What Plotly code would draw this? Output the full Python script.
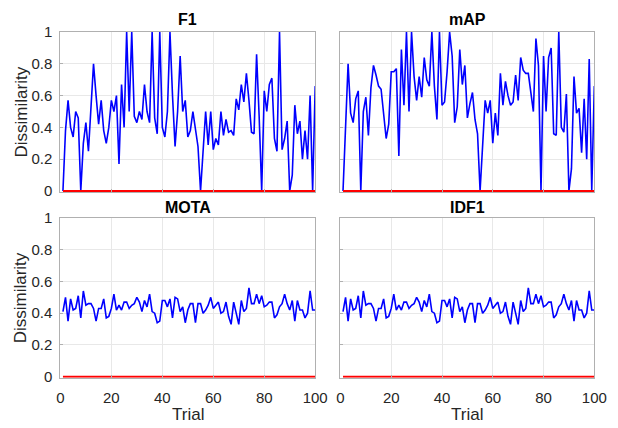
import plotly.graph_objects as go

trials = list(range(1, 101))

f1 = [0, 0.38, 0.57, 0.40, 0.34, 0.50, 0.46, 0, 0.30, 0.43,
      0.25, 0.50, 0.80, 0.60, 0.42, 0.57, 0.38, 0.30, 0.40, 0.57,
      0.50, 0.60, 0.17, 0.67, 0.40, 1.0, 0.50, 1.0, 0.47, 0.43,
      0.50, 0.45, 0.67, 0.50, 0.43, 1.0, 0.46, 0.36, 1.0, 0.40,
      0.34, 0.50, 1.0, 0.60, 0.28, 0.50, 0.85, 0.50, 0.57, 0.34,
      0.38, 0.50, 0.38, 0.28, 0, 0.25, 0.50, 0.29, 0.50, 0.26,
      0.33, 0.29, 0.50, 0.35, 0.45, 0.37, 0.38, 0.35, 0.58, 0.51,
      0.67, 0.56, 0.74, 0.57, 0.37, 0.36, 0.86, 0.47, 0, 0.63,
      0.50, 0.67, 0.71, 0.33, 0.25, 1.0, 0.26, 0.33, 0.44, 0,
      0.10, 0.54, 0.36, 0.44, 0.20, 0.38, 0.20, 0.60, 0, 0.66]

mAP = [0, 0.42, 0.80, 0.49, 0.43, 0.58, 0.63, 0, 0.50, 0.59,
       0.35, 0.65, 0.79, 0.73, 0.66, 0.64, 0.48, 0.33, 0.42, 0.75,
       0.75, 0.77, 0.22, 0.89, 0.54, 1.0, 0.50, 1.0, 0.72, 0.57,
       0.72, 0.59, 0.84, 0.70, 0.66, 1.0, 0.66, 0.45, 1.0, 0.54,
       0.56, 0.75, 1.0, 0.85, 0.43, 0.53, 0.89, 0.67, 0.79, 0.46,
       0.55, 0.62, 0.45, 0.36, 0, 0.30, 0.57, 0.49, 0.57, 0.30,
       0.49, 0.35, 0.74, 0.54, 0.69, 0.60, 0.54, 0.56, 0.73, 0.57,
       0.84, 0.76, 0.74, 0.74, 0.60, 0.50, 0.96, 0.79, 0, 0.85,
       0.50, 0.84, 0.90, 0.36, 0.35, 1.0, 0.40, 0.37, 0.61, 0,
       0.14, 0.72, 0.49, 0.52, 0.24, 0.58, 0.20, 0.83, 0, 0.66]

mota = [0.41, 0.50, 0.35, 0.49, 0.42, 0.43, 0.51, 0.37, 0.54, 0.45,
        0.46, 0.46, 0.43, 0.35, 0.43, 0.43, 0.49, 0.37, 0.38, 0.43,
        0.52, 0.42, 0.45, 0.42, 0.47, 0.47, 0.43, 0.45, 0.46, 0.50,
        0.47, 0.41, 0.48, 0.44, 0.52, 0.41, 0.40, 0.34, 0.35, 0.48,
        0.48, 0.44, 0.49, 0.37, 0.50, 0.49, 0.41, 0.44, 0.34, 0.42,
        0.46, 0.46, 0.34, 0.46, 0.46, 0.40, 0.42, 0.45, 0.50, 0.43,
        0.45, 0.47, 0.40, 0.41, 0.47, 0.38, 0.33, 0.47, 0.40, 0.33,
        0.48, 0.41, 0.43, 0.56, 0.46, 0.46, 0.52, 0.46, 0.51, 0.44,
        0.45, 0.47, 0.47, 0.37, 0.39, 0.44, 0.46, 0.52, 0.46, 0.42,
        0.48, 0.35, 0.48, 0.42, 0.42, 0.37, 0.40, 0.54, 0.42, 0.42]

idf1 = [0.41, 0.50, 0.35, 0.49, 0.42, 0.43, 0.51, 0.37, 0.54, 0.45,
        0.46, 0.46, 0.43, 0.35, 0.43, 0.43, 0.49, 0.37, 0.38, 0.43,
        0.52, 0.42, 0.45, 0.42, 0.47, 0.47, 0.43, 0.45, 0.46, 0.50,
        0.47, 0.41, 0.48, 0.44, 0.52, 0.41, 0.40, 0.34, 0.35, 0.48,
        0.48, 0.44, 0.49, 0.37, 0.50, 0.49, 0.41, 0.44, 0.34, 0.42,
        0.46, 0.46, 0.34, 0.46, 0.46, 0.40, 0.42, 0.45, 0.50, 0.43,
        0.45, 0.47, 0.40, 0.41, 0.47, 0.38, 0.33, 0.47, 0.40, 0.33,
        0.48, 0.41, 0.43, 0.56, 0.46, 0.46, 0.52, 0.46, 0.51, 0.44,
        0.45, 0.47, 0.47, 0.37, 0.39, 0.44, 0.46, 0.52, 0.46, 0.42,
        0.48, 0.35, 0.48, 0.42, 0.42, 0.37, 0.40, 0.54, 0.42, 0.42]

baseline = [0] * 100

titles = ["F1", "mAP", "MOTA", "IDF1"]
series = [f1, mAP, mota, idf1]
x_ticks = [0, 20, 40, 60, 80, 100]
y_ticks = [0, 0.2, 0.4, 0.6, 0.8, 1]
y_ticktext = ["0", "0.2", "0.4", "0.6", "0.8", "1"]

W, H = 618, 428
xdoms = [[58 / W, 320 / W], [346 / W, 607 / W]]
ydoms = [[1 - 190 / H, 1 - 24 / H], [1 - 383 / H, 1 - 217 / H]]

FONT = "Liberation Sans, Arial, sans-serif"
fig = go.Figure()
layout = dict(
    width=W, height=H, margin=dict(l=0, r=0, t=0, b=0),
    paper_bgcolor="white", plot_bgcolor="white", showlegend=False,
    font=dict(family=FONT, size=15, color="#262626"),
)
annotations = []
for i in range(4):
    r, c = divmod(i, 2)
    n = i + 1
    xa = "x" if n == 1 else f"x{n}"
    ya = "y" if n == 1 else f"y{n}"
    fig.add_trace(go.Scatter(x=trials, y=series[i], mode="lines",
                             line=dict(color="#0000FF", width=1.6),
                             xaxis=xa, yaxis=ya))
    fig.add_trace(go.Scatter(x=trials, y=baseline, mode="lines",
                             line=dict(color="#FF0000", width=2),
                             xaxis=xa, yaxis=ya))
    layout["xaxis" if n == 1 else f"xaxis{n}"] = dict(
        domain=xdoms[c], anchor=ya, range=[0, 100], tickvals=x_ticks,
        showticklabels=(r == 1), showgrid=True, gridcolor="#e8e8e8",
        gridwidth=1, zeroline=False, showline=True, mirror=True,
        linecolor="#b0b0b0", linewidth=1, ticks="inside", ticklen=3,
        tickcolor="#b0b0b0", tickfont=dict(size=15, color="#262626"),
        ticklabelstandoff=6,
    )
    layout["yaxis" if n == 1 else f"yaxis{n}"] = dict(
        domain=ydoms[r], anchor=xa, range=[-0.006, 1], tickvals=y_ticks,
        ticktext=y_ticktext, showticklabels=(c == 0), showgrid=True,
        gridcolor="#e8e8e8", gridwidth=1, zeroline=False, showline=True,
        mirror=True, linecolor="#b0b0b0", linewidth=1, ticks="inside",
        ticklen=3, tickcolor="#b0b0b0", tickfont=dict(size=15, color="#262626"),
        ticklabelstandoff=4,
    )
    cx = (xdoms[c][0] + xdoms[c][1]) / 2
    ty = 1 - (11 if r == 0 else 206) / H
    annotations.append(dict(text=f"<b>{titles[i]}</b>", x=cx, y=ty,
                            xref="paper", yref="paper", showarrow=False,
                            xanchor="center", yanchor="middle",
                            font=dict(size=16, color="black", family=FONT)))
    if c == 0:
        annotations.append(dict(text="Dissimilarity", x=17 / W,
                                y=(ydoms[r][0] + ydoms[r][1]) / 2,
                                xref="paper", yref="paper", showarrow=False,
                                textangle=-90, xanchor="center", yanchor="middle",
                                font=dict(size=17, color="#262626", family=FONT)))
    if r == 1:
        annotations.append(dict(text="Trial", x=cx, y=1 - 421 / H,
                                xref="paper", yref="paper", showarrow=False,
                                xanchor="center", yanchor="middle",
                                font=dict(size=17, color="#262626", family=FONT)))

layout["annotations"] = annotations
fig.update_layout(**layout)
fig.write_html("out.html")
